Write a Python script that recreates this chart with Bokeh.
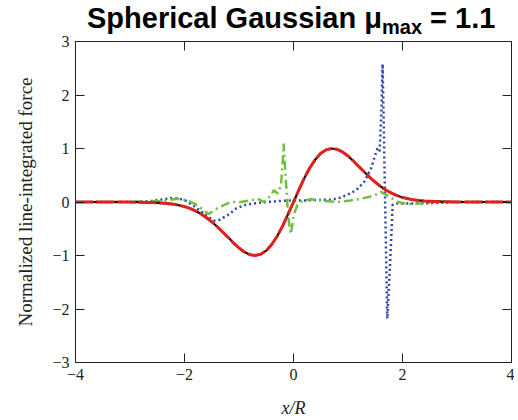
from bokeh.plotting import figure
from bokeh.layouts import column
from bokeh.models import Range1d, LinearAxis, FixedTicker, Div, CustomJSTickFormatter
from bokeh.embed import file_html
from bokeh.resources import INLINE

# ---- data ----
x_ticks = [-4, -2, 0, 2, 4]
y_ticks = [-3, -2, -1, 0, 1, 2, 3]

# analytic force (black solid) and model (red dashed) – nearly identical
ana_x = [-4.0, -3.0, -2.6, -2.4, -2.2, -2.0, -1.9, -1.8, -1.7, -1.6, -1.5, -1.4, -1.3, -1.2, -1.1,
         -1.0, -0.9, -0.8, -0.7, -0.6, -0.5, -0.4, -0.3, -0.2, -0.1, 0.0, 0.1, 0.2, 0.3, 0.4,
         0.5, 0.6, 0.7, 0.8, 0.9, 1.0, 1.1, 1.2, 1.3, 1.4, 1.5, 1.6, 1.7, 1.8, 1.9, 2.0,
         2.2, 2.4, 2.6, 3.0, 4.0]
ana_y = [0.0, 0.0, -0.01, -0.02, -0.04, -0.085, -0.12, -0.165, -0.22, -0.29, -0.37, -0.46, -0.56, -0.66, -0.765,
         -0.86, -0.935, -0.985, -1.0, -0.975, -0.91, -0.795, -0.64, -0.45, -0.23, 0.0, 0.23, 0.45, 0.64, 0.795,
         0.91, 0.975, 1.0, 0.985, 0.935, 0.86, 0.765, 0.66, 0.56, 0.46, 0.37, 0.29, 0.22, 0.165, 0.12, 0.085,
         0.04, 0.02, 0.01, 0.0, 0.0]

# blue dotted series
blue_x = [-4.0, -3.0, -2.6, -2.4, -2.2, -2.0, -1.85, -1.7, -1.55, -1.45, -1.35, -1.2, -1.05, -0.9, -0.75,
          -0.5, -0.25, 0.0, 0.25, 0.5, 0.7, 0.85, 1.0, 1.15, 1.3, 1.42, 1.5, 1.54, 1.58, 1.61,
          1.635, 1.66, 1.69, 1.72, 1.77, 1.82, 1.9, 2.2, 2.6, 3.0, 4.0]
blue_y = [0.0, 0.0, 0.02, 0.05, 0.08, 0.04, -0.06, -0.17, -0.29, -0.35, -0.33, -0.24, -0.12, -0.06, -0.03,
          0.0, 0.02, 0.03, 0.03, 0.04, 0.04, 0.08, 0.14, 0.22, 0.38, 0.62, 0.88, 1.0, 0.95, 1.6,
          2.58, 1.2, -0.5, -2.18, -1.2, -0.05, -0.03, -0.03, -0.02, 0.0, 0.0]

# green dash-dot series
green_x = [-4.0, -3.0, -2.4, -2.13, -1.95, -1.76, -1.61, -1.55, -1.4, -1.28, -1.15, -0.97, -0.78, -0.66,
           -0.54, -0.42, -0.36, -0.29, -0.23, -0.2, -0.18, -0.14, -0.11, -0.08, -0.05, 0.01, 0.07,
           0.17, 0.32, 0.56, 0.81, 1.05, 1.24, 1.48, 1.6, 1.73, 1.91, 2.1, 2.28, 2.6, 3.0, 4.0]
green_y = [0.0, 0.0, 0.02, 0.06, 0.03, -0.06, -0.19, -0.22, -0.12, -0.06, 0.0, 0.0, 0.03, 0.06,
           0.0, 0.12, 0.22, 0.16, 0.31, 0.72, 1.09, 0.4, -0.09, -0.4, -0.6, -0.22, -0.06,
           0.03, 0.05, 0.02, 0.0, 0.03, 0.06, 0.12, 0.19, 0.12, 0.0, -0.04, -0.03, 0.0, 0.0, 0.0]

# ---- title (HTML so that "max" can be a subscript) ----
title = Div(
    text='Spherical Gaussian \u03bc<span style="font-size:20px; vertical-align:-6px;">max</span> = 1.1',
    width=514, height=30, margin=(0, 0, 0, 0),
    styles={"font-family": "Liberation Sans, Arial, sans-serif", "font-weight": "bold",
            "font-size": "29px", "color": "black", "padding-left": "87px",
            "padding-top": "2px", "line-height": "32px", "white-space": "nowrap",
            "overflow": "visible", "z-index": "2"})

# ---- figure ----
p = figure(width=514, height=390, output_backend="svg", toolbar_location=None,
           x_range=Range1d(-4, 4), y_range=Range1d(-3, 3), margin=(0, 0, 0, 0),
           min_border_left=75, min_border_right=3, min_border_top=11, min_border_bottom=58)
p.grid.visible = False
p.outline_line_color = "#222222"
p.outline_line_width = 1
p.background_fill_color = "white"
p.border_fill_color = None

fmt = CustomJSTickFormatter(code="return tick < 0 ? '\u2212' + Math.abs(tick) : String(tick);")
blank = CustomJSTickFormatter(code="return '';")

def style(ax, ticks, labels=True):
    ax.ticker = FixedTicker(ticks=ticks)
    ax.major_tick_in = 9
    ax.major_tick_out = 0
    ax.minor_tick_line_color = None
    ax.major_tick_line_color = "#222222"
    ax.axis_line_color = None
    ax.major_label_text_font = "Liberation Serif"
    ax.major_label_text_font_size = "16px"
    ax.major_label_text_color = "#222222"
    ax.formatter = fmt if labels else blank

xa = p.xaxis[0]
ya = p.yaxis[0]
style(xa, x_ticks)
style(ya, y_ticks)
xa.major_label_standoff = 6
ya.major_label_standoff = 6
xa.axis_label = "x/R"
xa.axis_label_text_font = "Liberation Serif"
xa.axis_label_text_font_style = "italic"
xa.axis_label_text_font_size = "18px"
xa.axis_label_text_color = "#222222"
xa.axis_label_standoff = 15
ya.axis_label = "Normalized line-integrated force"
ya.axis_label_text_font = "Liberation Serif"
ya.axis_label_text_font_style = "normal"
ya.axis_label_text_font_size = "19px"
ya.axis_label_text_color = "#222222"
ya.axis_label_standoff = 13

top = LinearAxis()
style(top, x_ticks, labels=False)
p.add_layout(top, "above")
right = LinearAxis()
style(right, y_ticks, labels=False)
p.add_layout(right, "right")

# ---- series ----
p.line(blue_x, blue_y, line_color="#2f47a3", line_width=2.5, line_dash="2 3")
p.line(green_x, green_y, line_color="#6fc03f", line_width=2.5, line_dash="9 4 2 4")
p.line(ana_x, ana_y, line_color="#111111", line_width=2.2)
p.line(ana_x, ana_y, line_color="#e3201b", line_width=3, line_dash="18 3")

layout = column(title, p, spacing=0, margin=(0, 0, 0, 0))
open("out.html", "w").write(file_html(layout, INLINE))
